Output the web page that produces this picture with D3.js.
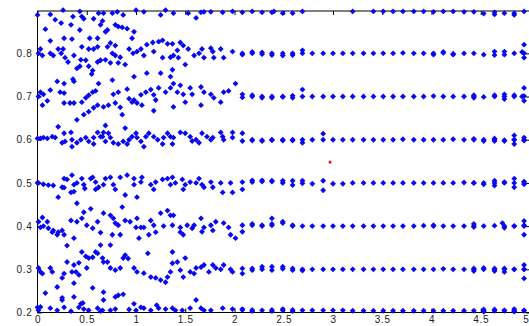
<!DOCTYPE html>
<html><head><meta charset="utf-8">
<script src="https://cdn.jsdelivr.net/npm/d3@7"></script>
<style>html,body{margin:0;padding:0;background:#fff;}svg{display:block;}</style>
</head><body>
<svg id="chart" width="529" height="326"></svg>
<script>
// ---- data ----
const xTicks = [0,0.5,1,1.5,2,2.5,3,3.5,4,4.5,5];
const xTickLabels = ["0","0.5","1","1.5","2","2.5","3","3.5","4","4.5","5"];
const yTicks = [0.2,0.3,0.4,0.5,0.6,0.7,0.8];
const yTickLabels = ["0.2","0.3","0.4","0.5","0.6","0.7","0.8"];

// regular sampling on the right part of the chart
const gridX = [2.08,2.18,2.28,2.38,2.49,2.59,2.69,2.79,2.90,3.00,3.10,3.20,3.31,3.41,3.51,3.61,3.71,3.82,3.92,4.02,4.12,4.22,4.33,4.43,4.53,4.64,4.74,4.84,4.94];
const band09 = [0.895,0.897,0.895,0.895,0.893,0.893,0.897,null,null,null,null,0.897,null,0.897,0.897,0.897,0.897,0.897,0.897,0.896,0.897,0.897,0.896,0.896,0.892,0.895,0.893,0.889,0.897];
const band08 = [0.800,0.800,0.798,0.800,0.795,0.800,0.807,0.800,0.800,0.800,0.800,0.800,0.800,0.800,0.800,0.800,0.801,0.800,0.800,0.800,0.801,0.799,0.800,0.800,0.797,0.804,0.804,0.800,0.800];
const band07 = [0.705,0.700,0.700,0.700,0.700,0.702,0.716,0.700,0.700,0.700,0.700,0.700,0.700,0.700,0.700,0.700,0.700,0.700,0.700,0.701,0.700,0.700,0.700,0.700,0.699,0.700,0.700,0.700,0.701];
const band06 = [0.615,0.600,0.597,0.600,0.600,0.600,0.600,0.600,0.600,0.600,0.600,0.600,0.600,0.600,0.600,0.600,0.601,0.600,0.600,0.600,0.600,0.601,0.600,0.600,0.600,0.600,0.599,0.600,0.600];
const band05 = [0.502,0.506,0.506,0.505,0.505,0.495,0.505,0.498,0.505,0.498,0.498,0.500,0.500,0.500,0.500,0.500,0.500,0.500,0.500,0.500,0.500,0.500,0.501,0.500,0.500,0.500,0.500,0.500,0.500];
const band04 = [0.402,0.402,0.402,0.418,0.407,0.402,0.400,0.400,0.400,0.400,0.400,0.400,0.400,0.400,0.400,0.400,0.400,0.400,0.401,0.400,0.400,0.400,0.400,0.400,0.400,0.401,0.400,0.400,0.400];
const band03 = [0.302,0.302,0.300,0.306,0.306,0.302,0.300,0.300,0.300,0.300,0.300,0.300,0.300,0.300,0.300,0.300,0.300,0.300,0.300,0.300,0.301,0.300,0.300,0.300,0.300,0.300,0.300,0.300,0.300];
const band02 = [0.206,0.206,0.205,0.206,0.205,0.206,0.205,0.205,0.205,0.205,0.205,0.204,0.204,0.204,0.204,0.204,0.204,0.204,0.204,0.204,0.204,0.204,0.204,0.204,0.204,0.204,0.204,0.204,0.204];

// additional (doubled) points in the regular part
const extraPoints = [
 [2.40,0.897],[4.64,0.890],[4.84,0.893],
 [2.08,0.797],[2.18,0.803],[2.28,0.802],[2.38,0.796],[2.49,0.800],[2.59,0.796],[2.69,0.800],[4.02,0.797],[4.12,0.803],[4.22,0.797],[4.64,0.796],[4.74,0.797],[4.94,0.820],[4.94,0.790],[4.92,0.803],
 [2.08,0.698],[2.18,0.703],[2.28,0.697],[2.38,0.697],[2.49,0.699],[2.59,0.697],[2.69,0.700],[4.43,0.703],[4.43,0.697],[4.64,0.703],[4.74,0.705],[4.74,0.694],[4.84,0.703],[4.94,0.720],[4.94,0.690],[4.92,0.700],
 [2.08,0.597],[2.18,0.598],[2.28,0.599],[2.38,0.599],[2.49,0.598],[2.59,0.598],[2.69,0.593],[2.90,0.614],[4.43,0.602],[4.53,0.597],[4.64,0.603],[4.64,0.597],[4.74,0.597],[4.84,0.610],[4.84,0.590],[4.84,0.600],[4.94,0.605],[4.94,0.598],
 [2.08,0.485],[2.18,0.502],[2.28,0.503],[2.38,0.503],[2.49,0.500],[2.59,0.505],[2.69,0.499],[2.90,0.483],[4.43,0.500],[4.53,0.497],[4.64,0.505],[4.64,0.494],[4.74,0.502],[4.84,0.510],[4.84,0.490],[4.94,0.503],[4.94,0.497],
 [2.08,0.387],[2.18,0.405],[2.28,0.400],[2.38,0.402],[2.38,0.405],[2.49,0.410],[2.59,0.400],[4.02,0.402],[4.43,0.405],[4.43,0.398],[4.72,0.407],[4.74,0.396],[4.84,0.400],[4.94,0.412],[4.94,0.402],[4.94,0.380],
 [2.08,0.290],[2.18,0.298],[2.28,0.306],[2.38,0.298],[2.49,0.301],[2.59,0.298],[2.69,0.297],[4.43,0.302],[4.43,0.296],[4.53,0.303],[4.64,0.302],[4.64,0.296],[4.74,0.302],[4.74,0.294],[4.84,0.300],[4.94,0.310],[4.94,0.300],[4.94,0.279],
 [2.08,0.208],[2.18,0.203],[2.38,0.203],[2.49,0.208],[2.59,0.203],[4.53,0.207],[4.53,0.202],[4.64,0.207],[4.74,0.205],[4.84,0.208],[4.84,0.202],[4.94,0.205]
];

// scattered points on the left part
const leftPoints = [
 // top
 [0.00,0.889],[0.13,0.890],[0.26,0.900],[0.43,0.897],[0.47,0.880],[0.45,0.885],[0.18,0.878],[0.24,0.870],[0.36,0.885],[0.34,0.866],[0.57,0.880],[0.62,0.893],[0.08,0.856],[0.43,0.854],[0.27,0.835],[0.35,0.833],[0.53,0.835],[0.61,0.835],
 [0.64,0.866],[0.69,0.850],[0.74,0.824],[0.96,0.835],[0.13,0.829],[0.61,0.815],
 [0.67,0.893],[0.76,0.893],[0.81,0.896],[0.87,0.889],[1.00,0.900],[1.08,0.896],[1.25,0.889],[1.30,0.900],[0.66,0.875],[0.79,0.866],[0.82,0.862],[0.86,0.860],[0.91,0.857],[0.98,0.850],[0.71,0.854],
 [1.53,0.893],[1.61,0.882],[1.66,0.895],[1.69,0.896],[1.76,0.896],[1.88,0.895],[1.98,0.897],[1.38,0.893],
 // 0.8
 [0.03,0.810],[0.01,0.800],[0.05,0.795],[0.13,0.800],[0.16,0.795],[0.21,0.810],[0.26,0.810],[0.28,0.790],[0.37,0.795],[0.31,0.780],[0.44,0.785],[0.45,0.815],[0.52,0.810],[0.57,0.810],[0.43,0.770],[0.52,0.770],[0.56,0.760],[0.61,0.780],
 [0.49,0.784],[0.64,0.784],[0.24,0.800],[0.40,0.765],[0.55,0.752],[0.36,0.740],
 [0.71,0.815],[0.79,0.818],[0.76,0.800],[0.79,0.795],[0.84,0.791],[0.69,0.785],[0.74,0.778],[0.89,0.774],[1.05,0.810],[1.11,0.820],[1.17,0.825],[1.23,0.827],[1.27,0.830],[1.32,0.822],[1.01,0.804],[1.08,0.795],[1.18,0.804],[1.27,0.790],[1.35,0.791],
 [0.76,0.738],[0.98,0.746],[1.11,0.754],[1.25,0.754],[1.35,0.746],[0.82,0.778],[0.97,0.800],[0.93,0.810],
 [1.37,0.822],[1.45,0.825],[1.48,0.818],[1.42,0.807],[1.53,0.810],[1.59,0.795],[1.64,0.800],[1.67,0.810],[1.69,0.790],[1.76,0.812],[1.78,0.804],[1.79,0.790],[1.86,0.810],[1.89,0.790],[1.98,0.804],
 [1.38,0.795],[1.43,0.790],[1.50,0.774],[1.37,0.762],
 // 0.7
 [0.20,0.735],[0.27,0.730],[0.37,0.735],[0.13,0.715],[0.03,0.710],[0.06,0.705],[0.01,0.700],[0.23,0.710],[0.27,0.708],[0.10,0.690],[0.05,0.680],[0.27,0.685],[0.33,0.685],[0.37,0.685],[0.45,0.687],[0.49,0.697],[0.52,0.703],[0.56,0.710],[0.59,0.713],[0.62,0.730],
 [0.47,0.658],[0.40,0.646],[0.52,0.665],[0.57,0.674],[0.61,0.680],
 [0.77,0.705],[0.82,0.710],[0.67,0.676],[0.72,0.680],[0.79,0.685],[0.84,0.675],[0.86,0.658],[0.93,0.695],[0.96,0.687],[1.01,0.685],[1.05,0.704],[1.10,0.710],[1.15,0.716],[1.18,0.704],[1.20,0.692],[1.23,0.720],[1.30,0.710],[1.35,0.720],[1.06,0.680],[1.18,0.667],[0.91,0.717],[0.98,0.692],
 [1.38,0.730],[1.45,0.726],[1.55,0.720],[1.42,0.710],[1.48,0.705],[1.57,0.705],[1.66,0.722],[1.69,0.710],[1.76,0.705],[1.79,0.697],[1.89,0.710],[1.94,0.713],[2.01,0.730],[1.38,0.676],[1.66,0.680],[1.50,0.687],[1.86,0.687],
 // 0.6
 [0.21,0.630],[0.06,0.605],[0.03,0.603],[0.10,0.603],[0.15,0.607],[0.18,0.605],[0.27,0.615],[0.28,0.596],[0.34,0.617],[0.35,0.600],[0.40,0.593],[0.44,0.600],[0.49,0.605],[0.52,0.596],[0.57,0.605],[0.61,0.617],[0.64,0.607],[0.25,0.593],[0.35,0.584],[0.57,0.590],[0.00,0.603],
 [0.67,0.617],[0.72,0.615],[0.66,0.607],[0.74,0.605],[0.69,0.596],[0.77,0.593],[0.82,0.590],[0.87,0.596],[0.93,0.600],[0.96,0.607],[1.00,0.615],[1.01,0.605],[1.05,0.596],[1.10,0.607],[1.13,0.615],[1.18,0.607],[1.22,0.600],[1.28,0.605],[1.32,0.615],[1.35,0.607],[0.91,0.590],[1.08,0.584],[1.27,0.590],[0.69,0.633],[0.89,0.627],
 [1.38,0.605],[1.45,0.617],[1.50,0.615],[1.55,0.607],[1.61,0.600],[1.64,0.593],[1.67,0.615],[1.72,0.607],[1.78,0.605],[1.86,0.617],[1.88,0.607],[1.89,0.600],[1.98,0.605],[1.37,0.590],[1.57,0.597],[1.98,0.617],[1.76,0.600],
 // 0.5
 [0.01,0.500],[0.06,0.497],[0.11,0.495],[0.16,0.494],[0.27,0.510],[0.27,0.489],[0.30,0.508],[0.35,0.518],[0.37,0.496],[0.40,0.500],[0.45,0.510],[0.47,0.496],[0.54,0.510],[0.56,0.513],[0.59,0.502],[0.62,0.490],[0.34,0.478],[0.21,0.467],[0.40,0.453],[0.47,0.432],[0.54,0.440],[0.00,0.500],
 [0.25,0.490],[0.48,0.487],[0.59,0.485],[0.37,0.480],
 [0.69,0.510],[0.74,0.513],[0.84,0.513],[0.91,0.518],[0.98,0.510],[1.06,0.513],[0.67,0.496],[0.77,0.496],[0.98,0.496],[1.05,0.502],[1.15,0.496],[1.20,0.502],[1.27,0.508],[1.32,0.510],[1.35,0.496],[0.79,0.485],[1.18,0.485],[1.01,0.467],[0.89,0.472],
 [1.37,0.513],[1.40,0.500],[1.47,0.508],[1.50,0.496],[1.55,0.502],[1.61,0.500],[1.64,0.510],[1.67,0.496],[1.76,0.502],[1.78,0.490],[1.86,0.500],[1.88,0.478],[1.96,0.500],[1.98,0.478],[1.48,0.485],[1.69,0.490],
 // 0.4
 [0.05,0.420],[0.01,0.410],[0.10,0.410],[0.06,0.400],[0.03,0.397],[0.11,0.395],[0.16,0.390],[0.21,0.386],[0.25,0.390],[0.20,0.380],[0.27,0.380],[0.37,0.372],[0.40,0.410],[0.45,0.418],[0.50,0.402],[0.56,0.395],[0.61,0.410],[0.64,0.385],[0.45,0.340],[0.52,0.326],[0.59,0.340],[0.64,0.356],
 [0.34,0.413],[0.15,0.386],[0.49,0.330],[0.42,0.315],[0.30,0.355],
 [0.86,0.444],[0.67,0.430],[0.74,0.425],[0.77,0.418],[0.79,0.407],[0.82,0.402],[1.00,0.397],[1.05,0.397],[1.08,0.397],[1.15,0.413],[1.18,0.402],[1.20,0.386],[1.25,0.430],[1.32,0.436],[1.35,0.425],[0.76,0.380],[1.03,0.372],[1.13,0.380],
 [0.89,0.413],[0.94,0.410],[1.01,0.418],[0.84,0.380],[0.74,0.356],[1.28,0.400],
 [1.38,0.425],[1.37,0.402],[1.45,0.397],[1.52,0.402],[1.57,0.395],[1.66,0.418],[1.69,0.397],[1.76,0.402],[1.81,0.410],[1.89,0.407],[1.94,0.397],[1.96,0.380],[1.48,0.380],[1.45,0.386],[1.67,0.387],[1.78,0.390],[2.01,0.372],[1.59,0.402],
 // 0.3
 [0.01,0.303],[0.03,0.294],[0.05,0.290],[0.13,0.303],[0.15,0.294],[0.30,0.317],[0.37,0.310],[0.27,0.290],[0.25,0.280],[0.35,0.294],[0.42,0.287],[0.50,0.303],[0.56,0.328],[0.61,0.337],[0.37,0.268],[0.56,0.257],
 [0.39,0.294],[0.20,0.259],
 [0.66,0.326],[0.71,0.317],[0.74,0.303],[0.79,0.298],[0.84,0.303],[0.87,0.326],[0.89,0.333],[0.98,0.303],[1.01,0.294],[1.08,0.291],[1.15,0.282],[1.20,0.280],[1.25,0.275],[1.32,0.282],[1.35,0.294],[0.67,0.317],
 [0.92,0.325],[1.12,0.337],[1.30,0.270],
 [1.37,0.340],[1.42,0.317],[1.50,0.326],[1.45,0.298],[1.48,0.282],[1.55,0.294],[1.61,0.303],[1.66,0.305],[1.69,0.310],[1.74,0.294],[1.78,0.310],[1.81,0.303],[1.89,0.310],[1.98,0.294],[1.37,0.314],[1.59,0.290],[1.86,0.300],[1.96,0.300],
 // 0.2
 [0.08,0.245],[0.25,0.234],[0.37,0.236],[0.01,0.205],[0.13,0.210],[0.20,0.205],[0.27,0.212],[0.42,0.212],[0.44,0.220],[0.47,0.208],[0.52,0.205],[0.61,0.210],[0.64,0.203],[0.34,0.203],
 [0.25,0.229],[0.46,0.222],[0.03,0.213],[0.00,0.212],
 [0.67,0.247],[0.79,0.236],[0.82,0.240],[0.87,0.242],[0.67,0.229],[0.66,0.205],[0.74,0.205],[0.79,0.208],[1.00,0.205],[1.05,0.212],[1.08,0.210],[1.23,0.210],[1.30,0.208],[0.98,0.220],
 [1.21,0.217],[0.93,0.207],[1.15,0.205],
 [1.40,0.205],[1.47,0.205],[1.55,0.210],[1.61,0.229],[1.66,0.210],[1.69,0.205],[1.76,0.205],[1.88,0.210],[1.98,0.208],[1.37,0.210]
];

const redPoint = [[2.97, 0.548]];

// ---- chart ----
const svg = d3.select("#chart");
const x = d3.scaleLinear().domain([0, 5]).range([37.5, 530]);
const y = d3.scaleLinear().domain([0.2, 0.898]).range([312.5, 11]);

const bands = [band09, band08, band07, band06, band05, band04, band03, band02];
const blue = [];
bands.forEach(b => b.forEach((v, i) => { if (v !== null) blue.push([gridX[i], v]); }));
extraPoints.forEach(p => blue.push(p));
leftPoints.forEach(p => blue.push(p));

const font = "'Liberation Sans', Arial, Helvetica, sans-serif";
const tickLen = 4;

// frame
svg.append("rect")
  .attr("x", x(0)).attr("y", y(0.898))
  .attr("width", x(5) - x(0)).attr("height", y(0.2) - y(0.898))
  .attr("fill", "none").attr("stroke", "#000").attr("stroke-width", 1);

const styleAxis = g => {
  g.select(".domain").remove();
  g.selectAll(".tick line").attr("stroke", "#000");
  g.selectAll(".tick text").attr("fill", "#222")
    .style("font-family", font).style("font-size", "10px").style("letter-spacing", "0.7px");
};

const xAxisG = svg.append("g").attr("transform", `translate(0,${y(0.2)})`)
  .call(d3.axisBottom(x).tickValues(xTicks).tickFormat((d, i) => xTickLabels[i])
    .tickSizeInner(-tickLen).tickSizeOuter(0).tickPadding(3))
  .call(styleAxis);
// last label sits against the right edge of the picture
xAxisG.selectAll(".tick text").filter(d => d === 5).attr("text-anchor", "end").attr("x", -1);

svg.append("g").attr("transform", `translate(0,${y(0.898)})`)
  .call(d3.axisTop(x).tickValues(xTicks).tickFormat("").tickSizeInner(-tickLen).tickSizeOuter(0))
  .call(styleAxis);
svg.append("g").attr("transform", `translate(${x(0)},0)`)
  .call(d3.axisLeft(y).tickValues(yTicks).tickFormat((d, i) => yTickLabels[i])
    .tickSizeInner(-tickLen).tickSizeOuter(0).tickPadding(5))
  .call(styleAxis);
svg.append("g").attr("transform", `translate(${x(5)},0)`)
  .call(d3.axisRight(y).tickValues(yTicks).tickFormat("").tickSizeInner(-tickLen).tickSizeOuter(0))
  .call(styleAxis);

// points
const diamond = d3.symbol().type(d3.symbolSquare).size(17);
svg.append("g").selectAll("path").data(blue).join("path")
  .attr("d", diamond)
  .attr("transform", d => `translate(${x(d[0])},${y(d[1])}) rotate(45)`)
  .attr("fill", "#0808f0");

const small = d3.symbol().type(d3.symbolSquare).size(7);
svg.append("g").selectAll("path").data(redPoint).join("path")
  .attr("d", small)
  .attr("transform", d => `translate(${x(d[0])},${y(d[1])}) rotate(45)`)
  .attr("fill", "#ee1111");
</script>
</body></html>
